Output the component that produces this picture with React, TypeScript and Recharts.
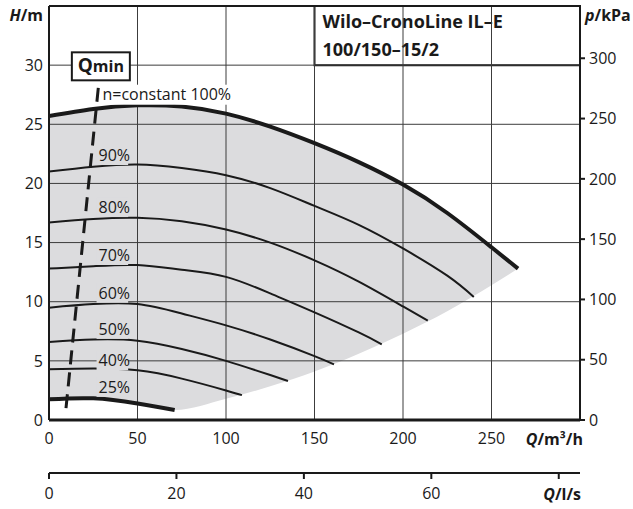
import {
  ComposedChart, Line, Area, XAxis, YAxis, ReferenceLine, ReferenceArea, ReferenceDot, Label,
} from 'recharts'

const FONT = '"Open Sans", "Noto Sans", sans-serif'
const INK = '#1a1a1a'
const GRID = '#3c3c3c'
const FILL = '#dcdcde'

// Q in m³/h, H in m
const q100 = [0, 25, 50, 75, 100, 125, 150, 175, 200, 225, 250, 265]
const h100 = [25.7, 26.3, 26.6, 26.5, 25.9, 24.8, 23.4, 21.8, 19.9, 17.5, 14.6, 12.8]

const q90 = [0, 25, 50, 75, 100, 125, 150, 175, 200, 225, 240]
const h90 = [21.0, 21.4, 21.6, 21.3, 20.7, 19.6, 18.1, 16.5, 14.5, 12.2, 10.4]

const q80 = [0, 25, 50, 75, 100, 125, 150, 175, 200, 214]
const h80 = [16.7, 17.0, 17.1, 16.8, 16.1, 15.0, 13.5, 11.7, 9.6, 8.4]

const q70 = [0, 25, 50, 75, 100, 125, 150, 175, 188]
const h70 = [12.8, 13.0, 13.1, 12.7, 12.1, 10.7, 9.1, 7.4, 6.4]

const q60 = [0, 25, 50, 75, 100, 125, 150, 161]
const h60 = [9.5, 9.8, 9.8, 9.0, 8.0, 6.8, 5.4, 4.7]

const q50 = [0, 25, 50, 75, 100, 125, 135]
const h50 = [6.6, 6.8, 6.7, 6.0, 5.0, 3.8, 3.3]

const q40 = [0, 25, 50, 75, 100, 109]
const h40 = [4.3, 4.35, 4.2, 3.5, 2.5, 2.1]

const q25 = [0, 25, 50, 71]
const h25 = [1.75, 1.83, 1.4, 0.85]

// shaded operating field: lower edge (25% curve + end points), upper edge (100% curve)
const fieldQ = [0, 25, 50, 71, 100, 125, 150, 175, 200, 225, 250, 265]
const fieldLow = [1.75, 1.83, 1.4, 0.85, 1.8, 2.85, 4.1, 5.6, 7.3, 9.2, 11.4, 12.8]
const fieldHigh = [25.7, 26.3, 26.6, 26.5, 25.9, 24.8, 23.4, 21.8, 19.9, 17.5, 14.6, 12.8]

// Qmin line
const qminQ = [9.6, 28.2]
const qminH = [1.0, 28.6]

const qTicks = [0, 50, 100, 150, 200, 250]
const lsTicks = [0, 20, 40, 60, 80]
const hTicks = [0, 5, 10, 15, 20, 25, 30]
const pTicks = [0, 50, 100, 150, 200, 250, 300]

const Q_MAX = 300
const H_MAX = 35
const KPA_PER_M = 9.81
const LS_MAX = Q_MAX / 3.6
const P_MAX = H_MAX * KPA_PER_M

const pts = (q: number[], h: number[]) => q.map((x, i) => ({ q: x, h: h[i] }))

const curves = [
  { key: '100', data: pts(q100, h100), w: 4 },
  { key: '90', data: pts(q90, h90), w: 2 },
  { key: '80', data: pts(q80, h80), w: 2 },
  { key: '70', data: pts(q70, h70), w: 2 },
  { key: '60', data: pts(q60, h60), w: 2 },
  { key: '50', data: pts(q50, h50), w: 2 },
  { key: '40', data: pts(q40, h40), w: 2 },
  { key: '25', data: pts(q25, h25), w: 4 },
]

const fieldData = fieldQ.map((q, i) => ({ q, range: [fieldLow[i], fieldHigh[i]] }))

// spans the secondary l/s and kPa axes so they get a domain
const secondaryExtent = [{ q: 0, h: 0 }, { q: LS_MAX, h: P_MAX }]

const curveLabels = [
  { text: 'n=constant 100%', q: 30.2, h: 27.5, bg: '#fff' },
  { text: '90%', q: 28, h: 22.4, bg: FILL },
  { text: '80%', q: 28, h: 18.0, bg: FILL },
  { text: '70%', q: 28, h: 13.95, bg: FILL },
  { text: '60%', q: 28, h: 10.75, bg: FILL },
  { text: '50%', q: 28, h: 7.7, bg: FILL },
  { text: '40%', q: 28, h: 5.05, bg: FILL },
  { text: '25%', q: 28, h: 2.8, bg: FILL },
]

function CurveLabel({ cx, cy, text, bg }: any) {
  const w = text.length * 9.2 + 4
  return (
    <g>
      <rect x={cx - 2} y={cy - 10} width={w} height={20} fill={bg} />
      <text x={cx} y={cy} dy="0.36em" fontFamily={FONT} style={{ fontSize: 16 }} fill={INK}>{text}</text>
    </g>
  )
}

function QminBox({ cx, cy }: any) {
  return (
    <g>
      <rect x={cx - 29} y={cy - 14} width={58} height={28} fill="#fff" stroke={INK} strokeWidth={2} />
      <text x={cx} y={cy + 6} textAnchor="middle" fontFamily={FONT} fontWeight="bold" fill={INK}>
        <tspan style={{ fontSize: 19 }}>Q</tspan>
        <tspan style={{ fontSize: 16 }}>min</tspan>
      </text>
    </g>
  )
}

export default function App() {
  const tickStyle = { fontFamily: FONT, fontSize: 16, fill: INK }
  return (
    <div style={{ position: 'absolute', left: 0, top: 0, background: '#fff' }}>
      <ComposedChart width={633} height={509} margin={{ top: 6, right: 0, bottom: 0, left: 0 }}>
        <XAxis
          xAxisId="q2" type="number" dataKey="q" domain={[0, LS_MAX]} ticks={lsTicks}
          allowDataOverflow height={36} tick={tickStyle} tickSize={6} tickMargin={9}
          tickFormatter={(v: number) => (v === 80 ? '' : String(v))}
          tickLine={{ stroke: INK, strokeWidth: 2 }} axisLine={{ stroke: INK, strokeWidth: 2 }}
        >
          <Label
            content={({ viewBox }: any) => (
              <text x={viewBox.x + viewBox.width + 1} y={viewBox.y + 27} textAnchor="end"
                fontFamily={FONT} fontWeight="bold" fill={INK} style={{ fontSize: 16 }}>
                <tspan fontStyle="italic">Q</tspan>/l/s
              </text>
            )}
          />
        </XAxis>
        <XAxis
          xAxisId="q1" type="number" dataKey="q" domain={[0, Q_MAX]} ticks={qTicks}
          allowDataOverflow height={53} tick={tickStyle} tickLine={false} tickSize={0} tickMargin={13}
          axisLine={{ stroke: INK, strokeWidth: 3 }}
        >
          <Label
            content={({ viewBox }: any) => (
              <text x={viewBox.x + viewBox.width + 3} y={viewBox.y + 25} textAnchor="end"
                fontFamily={FONT} fontWeight="bold" fill={INK} style={{ fontSize: 16 }}>
                <tspan fontStyle="italic">Q</tspan>/m³/h
              </text>
            )}
          />
        </XAxis>
        <YAxis
          yAxisId="h" type="number" domain={[0, H_MAX]} ticks={hTicks} width={49}
          tick={tickStyle} tickLine={false} tickSize={0} tickMargin={6}
          axisLine={{ stroke: INK, strokeWidth: 2 }}
        >
          <Label
            content={() => (
              <text x={43} y={21} textAnchor="end" fontFamily={FONT} fontWeight="bold" fill={INK} style={{ fontSize: 16 }}>
                <tspan fontStyle="italic">H</tspan>/m
              </text>
            )}
          />
        </YAxis>
        <YAxis
          yAxisId="p" orientation="right" type="number" domain={[0, P_MAX]} ticks={pTicks} width={53}
          allowDataOverflow tick={tickStyle} tickSize={5} tickMargin={4}
          tickLine={{ stroke: INK, strokeWidth: 2 }} axisLine={{ stroke: INK, strokeWidth: 2 }}
        >
          <Label
            content={() => (
              <text x={585} y={21} fontFamily={FONT} fontWeight="bold" fill={INK} style={{ fontSize: 16 }}>
                <tspan fontStyle="italic">p</tspan>/kPa
              </text>
            )}
          />
        </YAxis>

        <Line
          xAxisId="q2" yAxisId="p" data={secondaryExtent} dataKey="h" stroke="none"
          dot={false} activeDot={false} legendType="none" isAnimationActive={false}
        />

        <Area
          xAxisId="q1" yAxisId="h" data={fieldData} dataKey="range" type="monotone"
          stroke="none" fill={FILL} fillOpacity={1} isAnimationActive={false}
        />

        {qTicks.slice(1).map(x => (
          <ReferenceLine key={'x' + x} xAxisId="q1" yAxisId="h" x={x} stroke={GRID} strokeWidth={1} />
        ))}
        {hTicks.slice(1).map(y => (
          <ReferenceLine key={'y' + y} xAxisId="q1" yAxisId="h" y={y} stroke={GRID} strokeWidth={1} />
        ))}
        <ReferenceLine xAxisId="q1" yAxisId="h" y={H_MAX} stroke={INK} strokeWidth={2} />

        {curveLabels.map(l => (
          <ReferenceDot
            key={l.text} xAxisId="q1" yAxisId="h" x={l.q} y={l.h} r={0}
            shape={(p: any) => <CurveLabel {...p} text={l.text} bg={l.bg} />}
          />
        ))}

        {curves.map(c => (
          <Line
            key={c.key} xAxisId="q1" yAxisId="h" data={c.data} dataKey="h" type="natural"
            stroke={INK} strokeWidth={c.w} dot={false} isAnimationActive={false}
          />
        ))}

        <Line
          xAxisId="q1" yAxisId="h" data={pts(qminQ, qminH)} dataKey="h" type="linear"
          stroke={INK} strokeWidth={3} strokeDasharray="14 8" dot={false} isAnimationActive={false}
        />

        <ReferenceDot
          xAxisId="q1" yAxisId="h" x={29.3} y={29.9} r={0}
          shape={(p: any) => <QminBox {...p} />}
        />

        <ReferenceArea
          xAxisId="q1" yAxisId="h" x1={150} x2={Q_MAX} y1={30} y2={H_MAX}
          fill="#fff" fillOpacity={1} stroke={INK} strokeWidth={2}
        >
          <Label
            content={({ viewBox }: any) => (
              <text fontFamily={FONT} fontWeight="bold" fill={INK} style={{ fontSize: 18 }}>
                <tspan x={viewBox.x + 8} y={viewBox.y + 22}>Wilo–CronoLine IL–E</tspan>
                <tspan x={viewBox.x + 8} y={viewBox.y + 50}>100/150–15/2</tspan>
              </text>
            )}
          />
        </ReferenceArea>
      </ComposedChart>
    </div>
  )
}
